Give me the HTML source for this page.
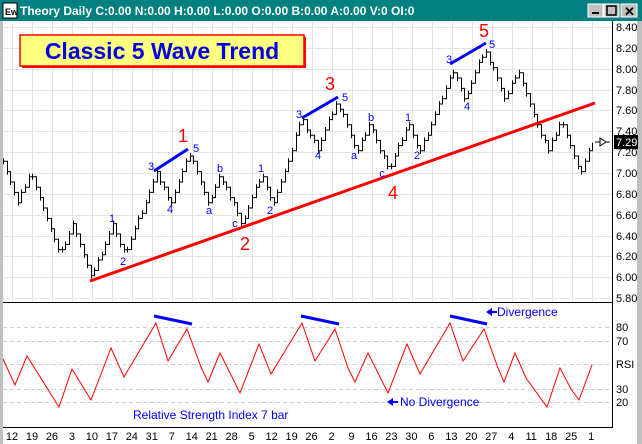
<!DOCTYPE html>
<html><head><meta charset="utf-8"><style>
html,body{margin:0;padding:0;width:642px;height:444px;overflow:hidden;background:#fff}
svg{display:block}
text{font-family:"Liberation Sans",Arial,sans-serif}
</style></head><body>
<svg id="s" width="642" height="444" xmlns="http://www.w3.org/2000/svg">
<rect width="642" height="444" fill="#fff"/>
<rect x="0" y="0" width="3" height="444" fill="#c0c0c0"/>
<rect x="637" y="0" width="5" height="444" fill="#c0c0c0"/>
<rect x="0" y="0" width="642" height="21" fill="#008080"/>
<rect x="3" y="3" width="14" height="15" fill="#fff" stroke="#000"/>
<text x="5" y="15" font-size="9" font-weight="bold">Ew</text>
<text x="20" y="15" font-size="12" font-weight="bold" fill="#fff">Theory Daily C:0.00 N:0.00 H:0.00 L:0.00 O:0.00 B:0.00 A:0.00 V:0 OI:0</text>
<g fill="#c0c0c0" stroke="#fff"><rect x="588" y="4" width="15" height="13"/><rect x="604" y="4" width="15" height="13"/><rect x="621" y="4" width="16" height="13"/></g>
<rect x="592" y="12" width="7" height="2" fill="#000"/>
<rect x="607" y="6" width="9" height="9" fill="none" stroke="#000" stroke-width="1.5"/>
<text x="624" y="16" font-size="13" font-weight="bold">✕</text>
<g id="grid" stroke="#e4e4e4" stroke-width="1"></g>
<g id="rsigrid" stroke="#cfcfcf" stroke-dasharray="4,3"></g>
<line x1="612.5" y1="21" x2="612.5" y2="427" stroke="#000"/>
<line x1="3" y1="302.5" x2="613" y2="302.5" stroke="#000"/>
<line x1="3" y1="427.5" x2="613" y2="427.5" stroke="#000"/>
<g id="plabels" font-size="11" fill="#000"></g>
<g font-size="11"><text x="616" y="331">80</text><text x="616" y="345">70</text><text x="616" y="368">RSI</text><text x="616" y="393">30</text><text x="616" y="406">20</text></g>
<g id="dates" font-size="11" text-anchor="middle"></g>
<rect x="22" y="37" width="284" height="31" fill="#f00"/>
<rect x="20" y="35" width="284" height="31" fill="#ffff80" stroke="#f00" stroke-width="1.5"/>
<text x="162" y="59" font-size="23" font-weight="bold" fill="#0000e0" text-anchor="middle">Classic 5 Wave Trend</text>
<path id="price" fill="none" stroke="#000" stroke-width="1"/>
<line x1="90" y1="281" x2="595" y2="103" stroke="#f00" stroke-width="3"/>
<g stroke="#0000ff" stroke-width="3"><line x1="154" y1="171" x2="188" y2="149"/><line x1="302" y1="118" x2="338" y2="97"/><line x1="450" y1="64" x2="486" y2="43"/>
<line x1="154" y1="316" x2="192" y2="324"/><line x1="301" y1="316" x2="339" y2="324"/><line x1="450" y1="316" x2="487" y2="324"/></g>
<g fill="#f00" font-size="18" text-anchor="middle"><text x="183" y="142">1</text><text x="245" y="250">2</text><text x="330" y="90">3</text><text x="393" y="199">4</text><text x="484" y="37">5</text></g>
<g fill="#0000ff" font-size="11" text-anchor="middle">
<text x="112" y="222">1</text><text x="123" y="265">2</text><text x="151" y="170">3</text><text x="170" y="213">4</text><text x="196" y="152">5</text>
<text x="209" y="214">a</text><text x="220" y="172">b</text><text x="235" y="227">c</text><text x="261" y="172">1</text><text x="270" y="214">2</text>
<text x="299" y="118">3</text><text x="318" y="159">4</text><text x="345" y="101">5</text><text x="354" y="159">a</text><text x="371" y="121">b</text><text x="382" y="177">c</text>
<text x="408" y="121">1</text><text x="417" y="159">2</text><text x="449" y="63">3</text><text x="467" y="110">4</text><text x="492" y="48">5</text></g>
<line x1="595" y1="142" x2="610" y2="142" stroke="#000"/><path d="M600 138 L606 142 L600 146 Z" fill="#fff" stroke="#000"/>
<rect x="614" y="135" width="24" height="14" fill="#000"/><text x="616" y="146" font-size="11" fill="#fff">7.29</text>
<path id="rsi" fill="none" stroke="#f00" stroke-width="1"/>
<g fill="#0000ff" font-size="12"><text x="497" y="316">Divergence</text><text x="400" y="406">No Divergence</text><text x="133" y="419">Relative Strength Index  7 bar</text></g>
<path d="M486 312 L492 308 L492 316 Z M491 311h6v2h-6z M387 402 L393 398 L393 406 Z M392 401h6v2h-6z" fill="#0000ff"/>
</svg>
<script>
var g=document.getElementById('grid'),h='';
for(var x=12;x<612;x+=20)h+='<line x1="'+(x+.5)+'" y1="21" x2="'+(x+.5)+'" y2="302"/>';
for(var i=0;i<14;i++){var y=Math.round(27+i*20.85)+.5;h+='<line x1="3" y1="'+y+'" x2="612" y2="'+y+'"/>';}
g.innerHTML=h;
document.getElementById('rsigrid').innerHTML=[327,341,364,389,402].map(function(y){return '<line x1="3" y1="'+(y+.5)+'" x2="612" y2="'+(y+.5)+'"/>'}).join('');
var pl='';for(i=0;i<14;i++){pl+='<text x="616" y="'+(Math.round(27+i*20.85)+4)+'">'+(8.4-i*0.2).toFixed(2)+'</text>';}
document.getElementById('plabels').innerHTML=pl;
var d=[12,19,26,3,10,17,24,31,7,14,21,28,5,12,19,26,2,9,16,23,30,6,13,20,27,4,11,18,25,1],dh='';
d.forEach(function(v,k){dh+='<text x="'+(12+k*19.97)+'" y="440">'+v+'</text>'});
document.getElementById('dates').innerHTML=dh;
var P=[[3,160],[17,203],[30,173],[60,255],[73,225],[92,277],[113,225],[125,255],[157,172],[170,204],[190,153],[209,208],[220,174],[242,224],[262,173],[273,203],[302,120],[318,150],[337,100],[357,152],[370,122],[389,172],[408,122],[420,152],[453,70],[465,100],[485,48],[505,100],[518,70],[548,152],[561,120],[580,172],[593,143]];
function interp(x){for(var k=0;k<P.length-1;k++){if(x<=P[k+1][0]){var a=P[k],b=P[k+1];return a[1]+(b[1]-a[1])*(x-a[0])/(b[0]-a[0]);}}return P[P.length-1][1];}
var pth='',prev=null;
for(x=3;x<=593;x+=3.66){var y=Math.round(interp(x)/5.2)*5.2;var X=Math.round(x)+.5;
if(prev===null)pth='M'+X+' '+y;else pth+=' H'+X+' V'+y.toFixed(1);
pth+=' M'+X+' '+(y-3).toFixed(1)+' V'+(y+3).toFixed(1)+' M'+X+' '+y.toFixed(1);prev=y;}
document.getElementById('price').setAttribute('d',pth);
var R=[[3,359],[15,385],[27,356],[59,407],[72,369],[91,400],[111,348],[124,377],[156,323],[168,361],[187,329],[201,367],[208,382],[220,353],[240,393],[259,344],[271,374],[302,323],[315,361],[335,329],[348,368],[355,382],[368,353],[388,393],[407,344],[420,374],[450,323],[463,361],[484,329],[498,368],[504,382],[515,353],[526,378],[547,407],[560,368],[571,389],[579,400],[592,365]];
document.getElementById('rsi').setAttribute('d','M'+R.map(function(p){return p[0]+' '+p[1]}).join(' L'));
</script>
</body></html>
